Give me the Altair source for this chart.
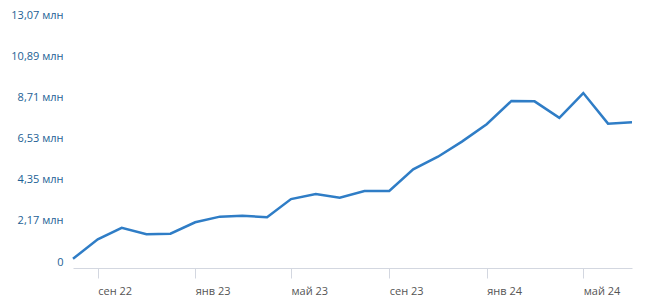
import altair as alt
import pandas as pd

months = ["2022-08", "2022-09", "2022-10", "2022-11", "2022-12",
          "2023-01", "2023-02", "2023-03", "2023-04", "2023-05", "2023-06", "2023-07",
          "2023-08", "2023-09", "2023-10", "2023-11", "2023-12",
          "2024-01", "2024-02", "2024-03", "2024-04", "2024-05", "2024-06", "2024-07"]
values_mln = [0.17, 1.20, 1.81, 1.47, 1.50,
              2.10, 2.40, 2.45, 2.37, 3.33, 3.60, 3.40,
              3.76, 3.76, 4.90, 5.57, 6.37,
              7.29, 8.52, 8.50, 7.63, 8.94, 7.32, 7.39]

y_ticks = [0, 2.178, 4.356, 6.534, 8.712, 10.89, 13.068]
y_labels = ["0", "2,17 млн", "4,35 млн", "6,53 млн", "8,71 млн", "10,89 млн", "13,07 млн"]
month_names = ["янв", "фев", "мар", "апр", "май", "июн", "июл", "авг", "сен", "окт", "ноя", "дек"]
x_tick_dates = [(2022, 9), (2023, 1), (2023, 5), (2023, 9), (2024, 1), (2024, 5)]

df = pd.DataFrame({
    "date": [m + "-01T00:00:00" for m in months],
    "value": values_mln,
})

month_arr = "[" + ",".join("'" + m + "'" for m in month_names) + "]"
x_label_expr = month_arr + "[month(datum.value)] + ' ' + (year(datum.value) % 100)"
y_arr = "[" + ",".join("'" + l + "'" for l in y_labels) + "]"
y_label_expr = y_arr + "[indexof([" + ",".join(str(t) for t in y_ticks) + "], datum.value)]"

chart = alt.Chart(df).mark_line(color="#2f7dc6", strokeWidth=2.5).encode(
    x=alt.X("date:T",
            scale=alt.Scale(domain=[alt.DateTime(year=2022, month=8, date=1),
                                    alt.DateTime(year=2024, month=7, date=1)],
                            nice=False),
            axis=alt.Axis(title=None,
                          values=[alt.DateTime(year=y, month=m, date=1) for y, m in x_tick_dates],
                          labelExpr=x_label_expr,
                          labelAlign="left",
                          labelBaseline="middle",
                          labelPadding=13,
                          labelFontSize=11,
                          labelFont="Open Sans",
                          labelColor="#555555",
                          domainColor="#d3d7e0",
                          tickColor="#d3d7e0",
                          tickSize=10,
                          offset=6,
                          grid=False)),
    y=alt.Y("value:Q",
            scale=alt.Scale(domain=[0, 13.068], nice=False, zero=True),
            axis=alt.Axis(title=None,
                          values=y_ticks,
                          labelExpr=y_label_expr,
                          labelFontSize=11,
                          labelFont="Open Sans",
                          labelColor="#1d5f95",
                          labelPadding=10,
                          domain=False,
                          ticks=False,
                          grid=False)),
).properties(
    width=559,
    height=247,
    autosize=alt.AutoSizeParams(type="none"),
    padding={"left": 73, "top": 15, "right": 27, "bottom": 43},
).configure_view(stroke=None)

chart.save("out.html", embed_options={"renderer": "svg", "actions": False})
